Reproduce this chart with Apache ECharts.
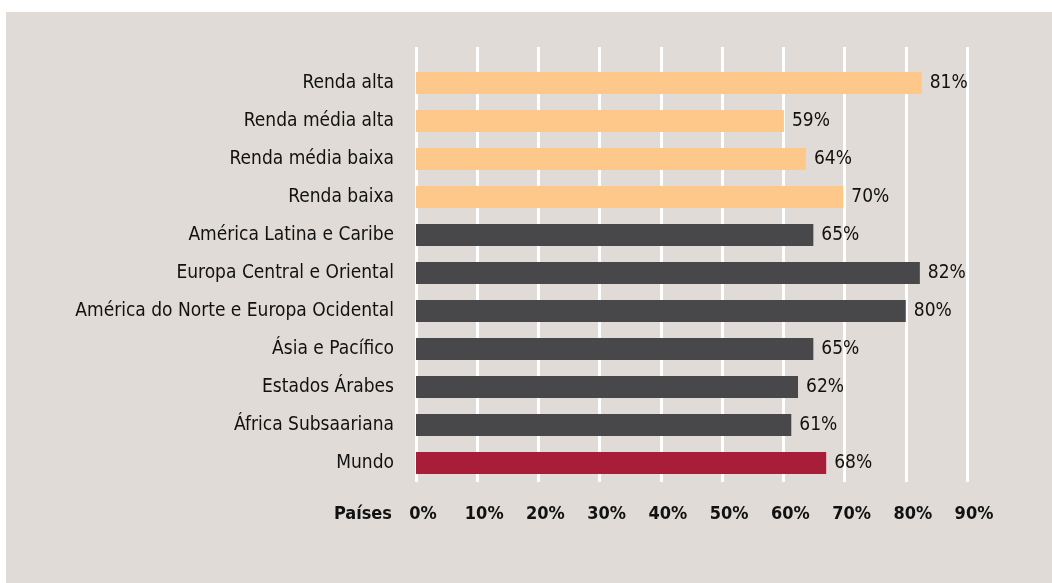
<!DOCTYPE html>
<html>
<head>
<meta charset="utf-8">
<script src="https://cdn.jsdelivr.net/npm/echarts@6/dist/echarts.min.js"></script>
<style>
    body { margin: 0; background: #ffffff; }
    #chart { position: absolute; left: 6px; top: 12px; width: 1046px; height: 571px; }
</style>
</head>
<body>
<div id="chart"></div>
<script>
// categorias (de cima para baixo)
var categories = ['Renda alta', 'Renda média alta', 'Renda média baixa', 'Renda baixa',
    'América Latina e Caribe', 'Europa Central e Oriental', 'América do Norte e Europa Ocidental',
    'Ásia e Pacífico', 'Estados Árabes', 'África Subsaariana', 'Mundo'];
// comprimento das barras
var barValues = [82.6, 60.1, 63.7, 69.8, 64.9, 82.3, 80.0, 64.9, 62.4, 61.3, 67.0];
// rótulos impressos
var valueLabels = ['81%', '59%', '64%', '70%', '65%', '82%', '80%', '65%', '62%', '61%', '68%'];
var groups = ['renda', 'renda', 'renda', 'renda', 'regiao', 'regiao', 'regiao', 'regiao', 'regiao', 'regiao', 'mundo'];
var tickLabels = ['0%', '10%', '20%', '30%', '40%', '50%', '60%', '70%', '80%', '90%'];

var colors = { renda: '#fec88a', regiao: '#48484a', mundo: '#a81d38' };
var fontFamily = '"Liberation Sans Narrow", "DejaVu Sans Condensed", sans-serif';

var chart = echarts.init(document.getElementById('chart'));

var data = [];
for (var i = 0; i < barValues.length; i++) {
    data.push({
        value: barValues[i],
        itemStyle: { color: colors[groups[i]] }
    });
}

var option = {
    backgroundColor: '#e0dbd6',
    animation: false,
    grid: [
        { left: 410, right: 85, top: 52, bottom: 101 },
        { left: 410, right: 85, top: 35, bottom: 101 } // só para as linhas verticais
    ],
    xAxis: [{
        type: 'value',
        gridIndex: 0,
        min: 0,
        max: 90,
        interval: 10,
        axisLine: { show: false },
        axisTick: { show: false },
        splitLine: { show: false },
        name: 'Países',
        nameLocation: 'start',
        nameGap: 24,
        nameTextStyle: {
            fontFamily: fontFamily,
            fontWeight: 'bold',
            fontSize: 18,
            color: '#111',
            verticalAlign: 'top',
            padding: [23, 0, 0, 0]
        },
        axisLabel: {
            margin: 23,
            fontFamily: fontFamily,
            fontWeight: 'bold',
            fontSize: 18,
            color: '#111',
            padding: [0, 0, 0, 14],
            formatter: function (v) { return tickLabels[Math.round(v / 10)]; }
        }
    }, {
        type: 'value',
        gridIndex: 1,
        min: 0,
        max: 90,
        interval: 10,
        axisLine: { show: false },
        axisTick: { show: false },
        axisLabel: { show: false },
        splitLine: { show: true, lineStyle: { color: '#ffffff', width: 3 } },
        z: 0
    }],
    yAxis: [{
        type: 'category',
        gridIndex: 0,
        inverse: true,
        data: categories,
        axisLine: { show: false },
        axisTick: { show: false },
        axisLabel: {
            margin: 22,
            fontFamily: fontFamily,
            fontSize: 19,
            color: '#111'
        }
    }, {
        type: 'category',
        gridIndex: 1,
        show: false,
        data: ['']
    }],
    series: [{
        type: 'bar',
        xAxisIndex: 0,
        yAxisIndex: 0,
        barWidth: 22,
        data: data,
        z: 3,
        label: {
            show: true,
            position: 'right',
            distance: 8,
            fontFamily: fontFamily,
            fontSize: 19,
            color: '#111',
            formatter: function (p) { return valueLabels[p.dataIndex]; }
        }
    }]
};

chart.setOption(option);
</script>
</body>
</html>
